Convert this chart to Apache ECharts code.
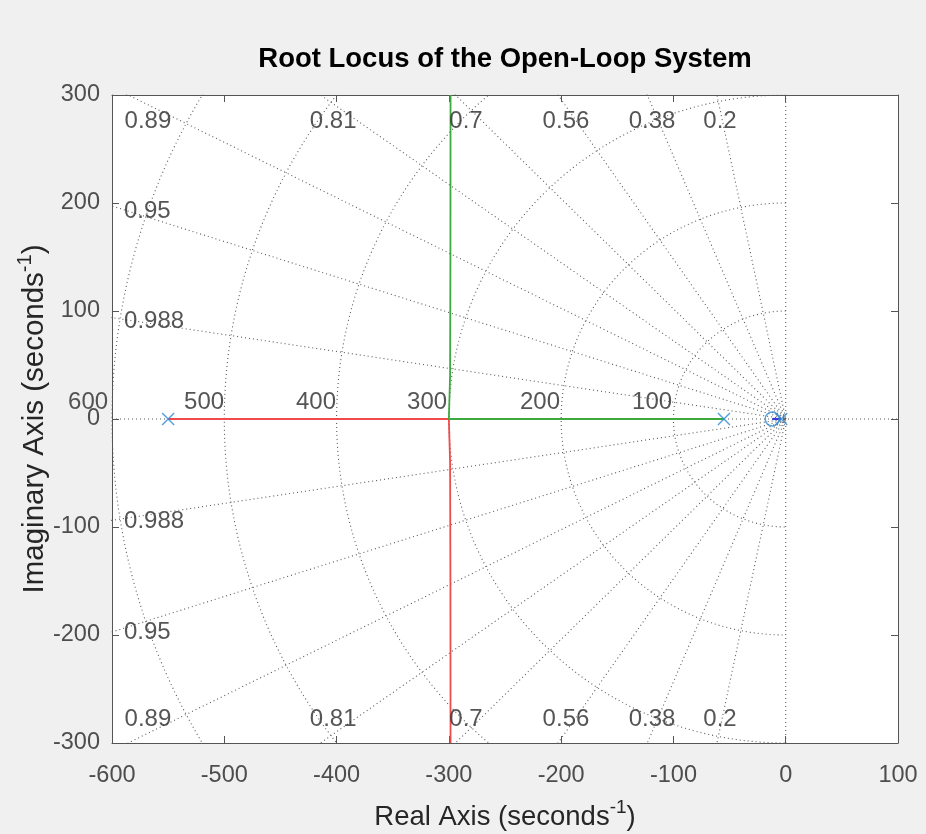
<!DOCTYPE html>
<html><head><meta charset="utf-8">
<script src="https://cdn.jsdelivr.net/npm/echarts@6/dist/echarts.min.js"></script>
<style>html,body{margin:0;padding:0;background:#f0f0f0}#c{width:926px;height:834px}</style>
</head><body><div id="c"></div>
<script>
// ---- data ----
const poles = [[-550, 0], [-55, 0], [-4, 0]];
const zeros = [[-12, 0]];
const branchRed = [[-550, 0], [-300, 0], [-299.5, -1], [-298.9, -40], [-298.6, -150], [-298.5, -300]];
const branchGreen = [[-55, 0], [-300, 0], [-299.5, 1], [-298.9, 40], [-298.6, 150], [-298.5, 300]];
const branchBlue = [[-4, 0], [-12, 0]];
const dampingValues = [0.2, 0.38, 0.56, 0.7, 0.81, 0.89, 0.95, 0.988];
const freqValues = [100, 200, 300, 400, 500, 600];
const xTicks = [-600, -500, -400, -300, -200, -100, 0, 100];
const yTicks = [-300, -200, -100, 0, 100, 200, 300];
// grid annotation labels: [x, y, text]
const dampingLabels = [
  [-568, 276, '0.89'], [-403, 276, '0.81'], [-284.7, 276, '0.7'], [-195.7, 276, '0.56'], [-119, 276, '0.38'], [-58.5, 276, '0.2'],
  [-568, -278, '0.89'], [-403, -278, '0.81'], [-284.7, -278, '0.7'], [-195.7, -278, '0.56'], [-119, -278, '0.38'], [-58.5, -278, '0.2'],
  [-568.6, 192, '0.95'], [-562.5, 90.5, '0.988'], [-562.5, -95, '0.988'], [-568.6, -198, '0.95']
];
const freqLabels = [
  [-119, 15.5, '100'], [-218.8, 15.5, '200'], [-319.4, 15.5, '300'], [-418.3, 15.5, '400'], [-518, 15.5, '500'], [-621.3, 15.5, '600']
];

// ---- build ----
const FONT = 'Liberation Sans, Arial, Helvetica, sans-serif';
const dotted = {type: [1, 3], width: 1.1, color: '#5a5a5a'};
const series = [];
function gridLine(data) {
  series.push({type: 'line', data: data, showSymbol: false, symbol: 'none', silent: true, clip: true,
    lineStyle: dotted, z: 1, animation: false});
}
const R = 1500;
dampingValues.forEach(z => {
  const s = Math.sqrt(1 - z * z);
  gridLine([[-z * R, s * R], [0, 0], [-z * R, -s * R]]);
});
gridLine([[-600, 0], [100, 0]]);
gridLine([[0, -300], [0, 300]]);
freqValues.forEach(r => {
  const pts = [];
  for (let a = 90; a <= 270; a += 1) {
    const t = a * Math.PI / 180;
    pts.push([r * Math.cos(t), r * Math.sin(t)]);
  }
  gridLine(pts);
});

function branch(data, color, w) {
  series.push({type: 'line', data: data, showSymbol: false, symbol: 'none', clip: true,
    lineStyle: {color: color, width: w}, z: 3, animation: false});
}
branch(branchRed, '#f24a4a', 1.8);
branch(branchGreen, '#3daa3d', 1.8);
branch(branchBlue, '#3a3ad8', 2.2);

const markerColor = '#2f8bd8';
series.push({type: 'scatter', data: poles, symbol: 'path://M0,0L10,10M10,0L0,10', symbolSize: 12, z: 5,
  itemStyle: {color: 'transparent', borderColor: markerColor, borderWidth: 1.5}, animation: false});
series.push({type: 'scatter', data: zeros, symbol: 'circle', symbolSize: 14, z: 5,
  itemStyle: {color: 'transparent', borderColor: markerColor, borderWidth: 1.5}, animation: false});

function labelSeries(data) {
  series.push({type: 'scatter', data: data, symbol: 'circle', symbolSize: 1, clip: false, z: 6, silent: true,
    itemStyle: {color: 'transparent'}, animation: false,
    label: {show: true, position: 'inside', align: 'center', verticalAlign: 'middle',
      formatter: p => p.value[2], fontSize: 24, color: '#2b2b2b', fontFamily: FONT}});
}
labelSeries(dampingLabels);
labelSeries(freqLabels);

const axisLineStyle = {color: '#555', width: 1};
function nameRich(sz) {
  return {
    n: {fontSize: sz, color: '#262626', fontFamily: FONT, verticalAlign: 'bottom'},
    s: {fontSize: Math.round(sz * 0.68), color: '#262626', fontFamily: FONT, verticalAlign: 'bottom', padding: [0, 0, Math.round(sz * 0.5), 0]}
  };
}
function xAx(pos, main) {
  return {type: 'value', position: pos, min: xTicks[0], max: xTicks[xTicks.length - 1], interval: 100,
    axisLine: {show: true, onZero: false, lineStyle: axisLineStyle},
    axisTick: {show: true, inside: true, length: 7, lineStyle: axisLineStyle},
    axisLabel: {show: main, fontSize: 23.5, color: '#4d4d4d', margin: 21, fontFamily: FONT},
    splitLine: {show: false},
    name: main ? '{n|Real Axis (seconds}{s|-1}{n|)}' : '', nameLocation: 'middle', nameGap: 55,
    nameMoveOverlap: false,
    nameTextStyle: {rich: nameRich(27.5)}};
}
function yAx(pos, main) {
  return {type: 'value', position: pos, min: yTicks[0], max: yTicks[yTicks.length - 1], interval: 100,
    axisLine: {show: true, onZero: false, lineStyle: axisLineStyle},
    axisTick: {show: true, inside: true, length: 7, lineStyle: axisLineStyle},
    axisLabel: {show: main, fontSize: 23.5, color: '#4d4d4d', margin: 12, fontFamily: FONT},
    splitLine: {show: false},
    name: main ? '{n|Imaginary Axis (seconds}{s|-1}{n|)}' : '', nameLocation: 'middle', nameGap: 62,
    nameMoveOverlap: false,
    nameTextStyle: {rich: nameRich(29.5)}};
}

const chart = echarts.init(document.getElementById('c'));
chart.setOption({
  backgroundColor: '#f0f0f0',
  animation: false,
  title: {text: 'Root Locus of the Open-Loop System', left: 505, textAlign: 'center', top: 45, padding: 0,
    textStyle: {fontSize: 27.5, fontWeight: 'bold', color: '#000', fontFamily: FONT}},
  grid: {left: 112, right: 28, top: 95, bottom: 91, show: true, backgroundColor: '#fff', borderWidth: 0,
    containLabel: false, outerBoundsMode: 'none'},
  xAxis: [xAx('bottom', true), xAx('top', false)],
  yAxis: [yAx('left', true), yAx('right', false)],
  series: series.map(s => Object.assign({xAxisIndex: 0, yAxisIndex: 0}, s))
});
</script></body></html>
